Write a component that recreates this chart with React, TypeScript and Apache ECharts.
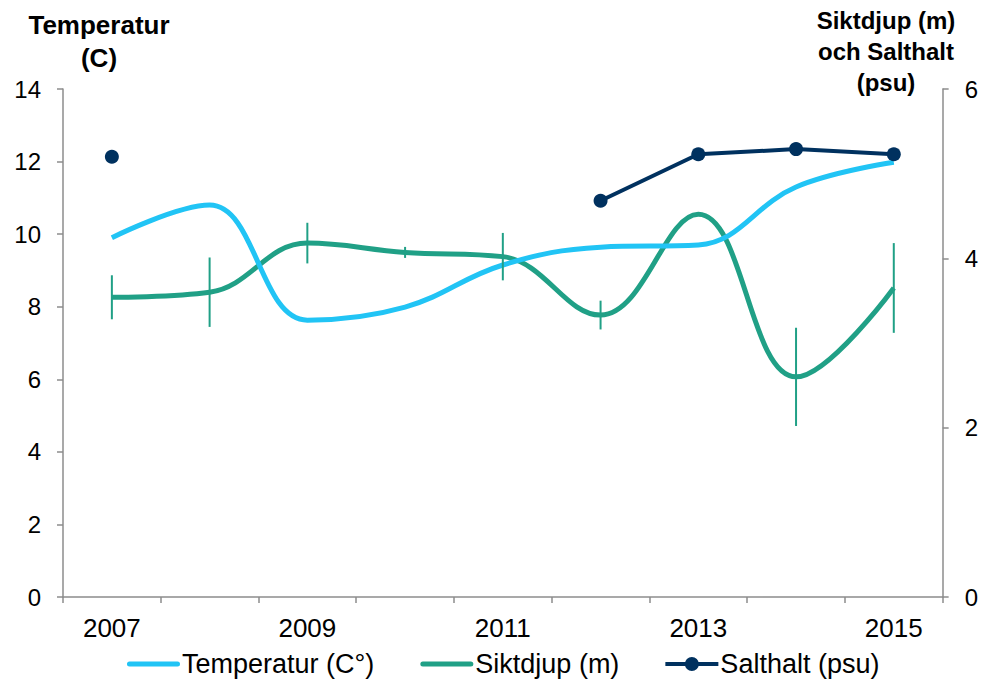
import React, { useEffect, useRef } from "react";
import * as echarts from "echarts";

const years = ["2007", "2008", "2009", "2010", "2011", "2012", "2013", "2014", "2015"];
const temperatur = [9.9, 10.8, 7.63, 7.99, 9.15, 9.64, 9.7, 11.3, 11.98];
const siktdjup = [3.54, 3.6, 4.18, 4.07, 4.02, 3.33, 4.52, 2.6, 3.65];
const siktdjupErr = [0.26, 0.41, 0.24, 0.065, 0.28, 0.17, 0, 0.58, 0.53];
const salthalt = [5.2, null, null, null, null, 4.68, 5.23, 5.29, 5.23];
const leftTicks = { min: 0, max: 14, interval: 2 };
const rightTicks = { min: 0, max: 6, interval: 2 };

const BLUE = "#21c4f5";
const GREEN = "#20a086";
const NAVY = "#00315f";
const AXIS = "#8c8c8c";
const FONT = "'Liberation Sans', Arial, sans-serif";

const LINE_ICON = "path://M2.5,0 L50.5,0 A2.5,2.5 0 0 1 50.5,5 L2.5,5 A2.5,2.5 0 0 1 2.5,0 Z";
const DOT_ICON =
  "path://M0,5 L53,5 L53,9 L0,9 Z M19.5,7 A7,7 0 1 1 33.5,7 A7,7 0 1 1 19.5,7 Z";

export default function App() {
  const ref = useRef<HTMLDivElement>(null);
  useEffect(() => {
    if (!ref.current) return;
    const chart = echarts.init(ref.current, null, { renderer: "svg" });
    const errData = siktdjup
      .map((v, i) => [i, v - siktdjupErr[i], v + siktdjupErr[i]])
      .filter((_, i) => siktdjupErr[i] > 0);
    chart.setOption({
      animation: false,
      backgroundColor: "#ffffff",
      textStyle: { fontFamily: FONT },
      grid: { left: 55, right: 35, top: 81, bottom: 88, containLabel: false },
      graphic: [
        {
          type: "text",
          x: 91,
          y: 0,
          style: {
            text: "Temperatur\n(C)",
            font: "bold 26px " + FONT,
            fill: "#000",
            align: "center",
            verticalAlign: "top",
            lineHeight: 33,
          },
        },
        {
          type: "text",
          x: 878,
          y: -3,
          style: {
            text: "Siktdjup (m)\noch Salthalt\n(psu)",
            font: "bold 24px " + FONT,
            fill: "#000",
            align: "center",
            verticalAlign: "top",
            lineHeight: 31,
          },
        },
      ],
      legend: {
        top: 641,
        left: 119,
        padding: 0,
        itemWidth: 53,
        itemHeight: 14,
        itemGap: 46,
        textStyle: {
          fontSize: 27,
          lineHeight: 30,
          color: "#000",
          fontFamily: FONT,
          padding: [0, 0, 0, -3],
        },
        data: [
          { name: "Temperatur (C°)", icon: LINE_ICON },
          { name: "Siktdjup (m)", icon: LINE_ICON },
          { name: "Salthalt (psu)", icon: DOT_ICON },
        ],
      },
      xAxis: {
        type: "category",
        data: years,
        boundaryGap: true,
        axisLine: { lineStyle: { color: AXIS, width: 1.5 } },
        axisTick: { show: true, interval: 0, length: 6, lineStyle: { color: AXIS, width: 1.5 } },
        axisLabel: { interval: 1, fontSize: 26, color: "#000", margin: 18, fontFamily: FONT },
        splitLine: { show: false },
      },
      yAxis: [
        {
          type: "value",
          ...leftTicks,
          axisLine: { show: true, lineStyle: { color: AXIS, width: 1.5 } },
          axisTick: { show: true, length: 6, lineStyle: { color: AXIS, width: 1.5 } },
          axisLabel: { fontSize: 24, color: "#000", margin: 22, fontFamily: FONT },
          splitLine: { show: false },
        },
        {
          type: "value",
          ...rightTicks,
          position: "right",
          axisLine: { show: true, lineStyle: { color: AXIS, width: 1.5 } },
          axisTick: { show: true, length: 6, lineStyle: { color: AXIS, width: 1.5 } },
          axisLabel: { fontSize: 24, color: "#000", margin: 22, fontFamily: FONT },
          splitLine: { show: false },
        },
      ],
      series: [
        {
          name: "Siktdjup (m)",
          type: "line",
          yAxisIndex: 1,
          data: siktdjup,
          smooth: 0.4,
          symbol: "none",
          color: GREEN,
          lineStyle: { color: GREEN, width: 5 },
          z: 2,
        },
        {
          name: "Temperatur (C°)",
          type: "line",
          yAxisIndex: 0,
          data: temperatur,
          smooth: 0.4,
          symbol: "none",
          color: BLUE,
          lineStyle: { color: BLUE, width: 5 },
          z: 3,
        },
        {
          name: "Siktdjup fel",
          type: "custom",
          yAxisIndex: 1,
          data: errData,
          renderItem: (params: any, api: any) => {
            const p1 = api.coord([api.value(0), api.value(1)]);
            const p2 = api.coord([api.value(0), api.value(2)]);
            return {
              type: "line",
              shape: { x1: p1[0], y1: p1[1], x2: p2[0], y2: p2[1] },
              style: { stroke: GREEN, lineWidth: 2 },
            };
          },
          z: 4,
        },
        {
          name: "Salthalt (psu)",
          type: "line",
          yAxisIndex: 1,
          data: salthalt,
          connectNulls: false,
          symbol: "circle",
          symbolSize: 14,
          showAllSymbol: true,
          color: NAVY,
          itemStyle: { color: NAVY },
          lineStyle: { color: NAVY, width: 4 },
          z: 5,
        },
      ],
    });
    return () => chart.dispose();
  }, []);
  return <div ref={ref} style={{ width: 973, height: 677 }} />;
}
